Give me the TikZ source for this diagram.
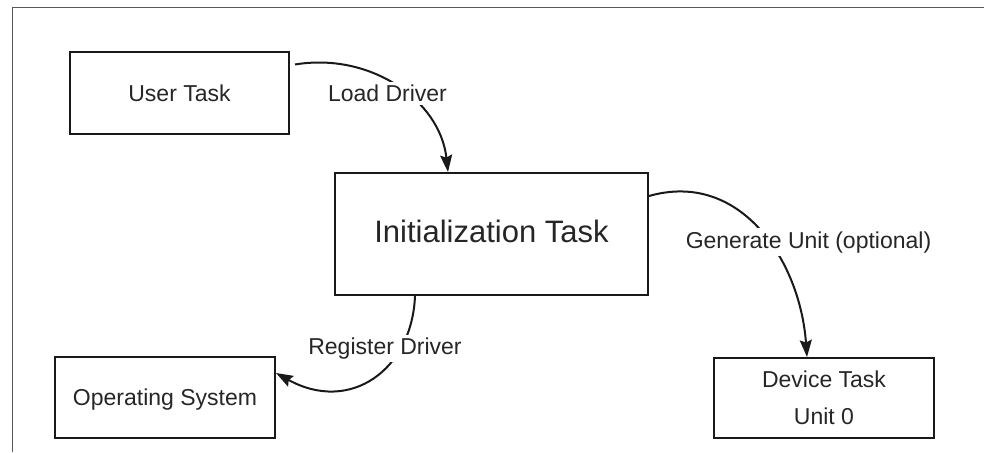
\documentclass[tikz,border=0pt]{standalone}
\usepackage{fontspec}
\setmainfont{Liberation Sans}
\usetikzlibrary{arrows.meta}
\begin{document}
\begin{tikzpicture}[x=1pt,y=-1pt,
  box/.style={draw=black!90, line width=2pt, inner sep=0pt, text height=16.5pt, text depth=0pt,
    font=\fontsize{23}{27}\selectfont, text=black!85},
  lbl/.style={fill=white, inner sep=3pt, font=\fontsize{23}{27}\selectfont, text=black!85, anchor=base},
  conn/.style={line width=2pt, draw=black!90, -{Stealth[length=17pt,width=12pt,inset=2.5pt]}}]
\useasboundingbox (0,0) rectangle (984,452);
\draw[line width=1pt, black!65] (12.5,452) -- (12.5,7.5) -- (984,7.5);
\node[box, minimum width=219pt, minimum height=81pt] (user) at (179.5,93) {User Task};
\node[box, minimum width=313pt, minimum height=122pt, text height=22.2pt, font=\fontsize{31}{36}\selectfont] (init) at (491.5,234) {\raisebox{2.7pt}{Initialization Task}};
\node[box, minimum width=220pt, minimum height=81pt] (os) at (165,397.5) {Operating System};
\node[box, minimum width=220pt, minimum height=80pt, align=center, text height=, text depth=, font=\fontsize{23}{37.3}\selectfont] (dev) at (824,398) {Device Task\\Unit 0};
\draw[conn] ([xshift=5pt,yshift=-13pt]user.north east) .. controls (370,52) and (440,100) .. (init.north -| 448,0);
\draw[conn] ([yshift=-24pt]init.north east) .. controls (740,170) and (800,260) .. (dev.north -| 807,0);
\draw[conn] (init.south -| 415,0) .. controls (412,370) and (350,414) .. ([yshift=-17pt]os.north east);
\node[lbl] (l1) at (387.5,101.7) {Load Driver};
\node[lbl] (l2) at (808.5,248) {Generate Unit (optional)};
\node[lbl] (l3) at (385,354.3) {Register Driver};
\end{tikzpicture}
\end{document}
